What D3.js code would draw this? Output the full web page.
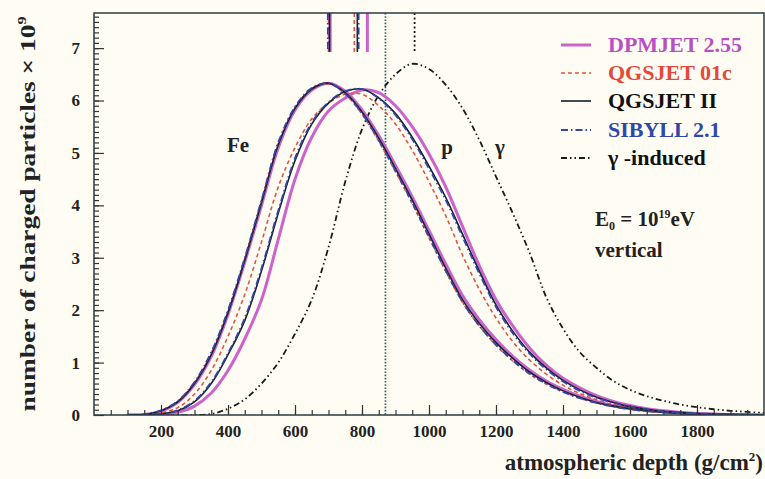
<!DOCTYPE html>
<html>
<head>
<meta charset="utf-8">
<script src="https://cdn.jsdelivr.net/npm/d3@7"></script>
<style>
  body { margin: 0; background: #fffdf3; }
  svg text { font-family: "Liberation Serif", "DejaVu Serif", serif; font-weight: bold; }
</style>
</head>
<body>
<div id="chart"></div>
<script>
// depth grid (g/cm2) shared by every profile
var depth = [100, 150, 200, 250, 300, 350, 400, 450, 500, 550,
             600, 650, 700, 750, 800, 850, 900, 950, 1000, 1050,
             1100, 1150, 1200, 1250, 1300, 1350, 1400, 1450, 1500, 1550,
             1600, 1650, 1700, 1750, 1800, 1850, 1900, 1950, 2000];

// iron showers (x 10^9 particles)
var feDpmjet   = [0, 0.01, 0.07, 0.24, 0.58, 1.12, 1.92, 2.92, 4.0, 5.1,
                  5.82, 6.2, 6.33, 6.18, 5.82, 5.33, 4.76, 4.16, 3.52, 2.88,
                  2.28, 1.82, 1.44, 1.12, 0.86, 0.65, 0.49, 0.36, 0.26, 0.18,
                  0.13, 0.09, 0.06, 0.04, 0.02, 0.01, 0.01, 0, 0];
var feQgsjet01 = [0, 0.01, 0.08, 0.26, 0.62, 1.18, 1.98, 2.98, 4.08, 5.18,
                  5.87, 6.23, 6.32, 6.12, 5.74, 5.22, 4.64, 4.03, 3.38, 2.74,
                  2.15, 1.7, 1.33, 1.03, 0.78, 0.59, 0.44, 0.32, 0.23, 0.16,
                  0.11, 0.07, 0.05, 0.03, 0.02, 0.01, 0, 0, 0];
var feQgsjet2  = [0, 0.01, 0.08, 0.25, 0.6, 1.15, 1.95, 2.95, 4.05, 5.15,
                  5.85, 6.22, 6.33, 6.15, 5.78, 5.28, 4.7, 4.1, 3.45, 2.8,
                  2.2, 1.75, 1.38, 1.08, 0.82, 0.62, 0.46, 0.34, 0.24, 0.17,
                  0.12, 0.08, 0.05, 0.03, 0.02, 0.01, 0.01, 0, 0];
var feSibyll   = [0, 0.01, 0.09, 0.27, 0.63, 1.2, 2.0, 3.0, 4.1, 5.2,
                  5.88, 6.24, 6.33, 6.13, 5.75, 5.24, 4.66, 4.05, 3.4, 2.75,
                  2.16, 1.7, 1.34, 1.04, 0.79, 0.6, 0.44, 0.32, 0.23, 0.16,
                  0.11, 0.07, 0.05, 0.03, 0.02, 0.01, 0, 0, 0];

// proton showers
var pDpmjet    = [0, 0, 0.01, 0.05, 0.17, 0.42, 0.85, 1.45, 2.2, 3.35,
                  4.5, 5.3, 5.8, 6.05, 6.2, 6.15, 5.9, 5.5, 4.98, 4.35,
                  3.6, 2.85, 2.2, 1.7, 1.28, 0.95, 0.7, 0.52, 0.37, 0.26,
                  0.18, 0.12, 0.08, 0.05, 0.03, 0.02, 0.01, 0.01, 0];
var pQgsjet01  = [0, 0.01, 0.04, 0.14, 0.4, 0.85, 1.5, 2.3, 3.3, 4.35,
                  5.1, 5.65, 5.95, 6.12, 6.12, 5.9, 5.55, 5.05, 4.45, 3.8,
                  3.05, 2.4, 1.85, 1.4, 1.05, 0.78, 0.57, 0.41, 0.29, 0.2,
                  0.14, 0.09, 0.06, 0.04, 0.02, 0.01, 0.01, 0, 0];
var pQgsjet2   = [0, 0, 0.02, 0.08, 0.25, 0.6, 1.15, 1.8, 2.75, 3.85,
                  4.85, 5.55, 5.95, 6.17, 6.22, 6.05, 5.75, 5.3, 4.75, 4.15,
                  3.45, 2.75, 2.1, 1.6, 1.2, 0.9, 0.66, 0.48, 0.34, 0.24,
                  0.16, 0.11, 0.07, 0.05, 0.03, 0.02, 0.01, 0.01, 0];
var pSibyll    = [0, 0, 0.02, 0.09, 0.27, 0.63, 1.18, 1.85, 2.8, 3.9,
                  4.9, 5.58, 5.97, 6.18, 6.22, 6.04, 5.72, 5.26, 4.7, 4.1,
                  3.4, 2.7, 2.06, 1.56, 1.17, 0.87, 0.64, 0.46, 0.33, 0.23,
                  0.16, 0.11, 0.07, 0.04, 0.03, 0.02, 0.01, 0, 0];

// photon shower
var gammaInd   = [0, 0, 0, 0, 0, 0.02, 0.12, 0.3, 0.6, 1.0,
                  1.55, 2.2, 3.2, 4.45, 5.45, 6.1, 6.5, 6.7, 6.6, 6.3,
                  5.85, 5.25, 4.55, 3.85, 3.1, 2.25, 1.65, 1.2, 0.9, 0.65,
                  0.48, 0.36, 0.27, 0.2, 0.15, 0.11, 0.08, 0.06, 0.04];

// shower maxima shown as markers on the top axis (DPMJET, QGSJET01, QGSJETII, SIBYLL)
var xmaxFe = [705, 700, 703, 698];
var xmaxP  = [816, 777, 786, 790];
var xmaxGamma = 957;
var groundDepth = 870;

var xTicks = [200, 400, 600, 800, 1000, 1200, 1400, 1600, 1800];
var yTicks = [0, 1, 2, 3, 4, 5, 6, 7];
var modelNames = ["DPMJET 2.55", "QGSJET 01c", "QGSJET II", "SIBYLL 2.1", "-induced"];

// ---------------------------//
//       SVG AND SCALES       //
// ---------------------------//
var W = 765, H = 479;
var margin = { top: 13, right: 1, bottom: 64, left: 94 },
    width = W - margin.left - margin.right,
    height = H - margin.top - margin.bottom;

var svg = d3.select("#chart").append("svg")
    .attr("width", W).attr("height", H)
    .style("background", "#fffdf3");

var g = svg.append("g")
    .attr("transform", "translate(" + margin.left + "," + margin.top + ")");

var x = d3.scaleLinear().domain([0, 2000]).range([0, width]);
var y = d3.scaleLinear().domain([0, 7.67]).range([height, 0]);

g.append("clipPath").attr("id", "clip")
  .append("rect").attr("width", width).attr("height", height);

// styles per model
var models = [
    { name: "dpmjet",   color: "#cc62cc", width: 3, dash: null },
    { name: "qgsjet01", color: "#e5533f", width: 1.6, dash: "4,3" },
    { name: "qgsjet2",  color: "#15202a", width: 1.6, dash: null },
    { name: "sibyll",   color: "#3346a8", width: 1.8, dash: "7,3,1.5,3" }
];
var feSeries = [feDpmjet, feQgsjet01, feQgsjet2, feSibyll];
var pSeries  = [pDpmjet, pQgsjet01, pQgsjet2, pSibyll];

var line = d3.line()
    .x(function(d) { return x(d[0]); })
    .y(function(d) { return y(d[1]); })
    .curve(d3.curveCatmullRom.alpha(0.5));

function pairs(vals) { return depth.map(function(d, i) { return [d, vals[i]]; }); }

var curves = g.append("g").attr("clip-path", "url(#clip)");

// ground level line
curves.append("line")
    .attr("x1", x(groundDepth)).attr("x2", x(groundDepth))
    .attr("y1", 0).attr("y2", height)
    .attr("stroke", "#2a6475").attr("stroke-width", 1.7)
    .attr("stroke-dasharray", "1.6,1.6");

// gamma profile
curves.append("path")
    .attr("d", line(pairs(gammaInd)))
    .attr("fill", "none").attr("stroke", "#1a1a1a").attr("stroke-width", 1.8)
    .attr("stroke-dasharray", "6,3,1.5,3,1.5,3");

models.forEach(function(m, i) {
    [feSeries[i], pSeries[i]].forEach(function(s) {
        curves.append("path")
            .attr("d", line(pairs(s)))
            .attr("fill", "none")
            .attr("stroke", m.color)
            .attr("stroke-width", m.width)
            .attr("stroke-dasharray", m.dash);
    });
});

// Xmax markers hanging from the top
var markerLen = 39;
models.forEach(function(m, i) {
    [xmaxFe[i], xmaxP[i]].forEach(function(v) {
        g.append("line")
            .attr("x1", x(v)).attr("x2", x(v))
            .attr("y1", 0).attr("y2", markerLen)
            .attr("stroke", m.color)
            .attr("stroke-width", m.width)
            .attr("stroke-dasharray", m.dash);
    });
});
g.append("line")
    .attr("x1", x(xmaxGamma)).attr("x2", x(xmaxGamma))
    .attr("y1", 0).attr("y2", markerLen)
    .attr("stroke", "#1a1a1a").attr("stroke-width", 1.8)
    .attr("stroke-dasharray", "2,2.5");

// ---------------------------//
//       AXES                 //
// ---------------------------//
var minorX = d3.range(50, 2000, 50);
var minorY = d3.range(0.1, 7.65, 0.1);
var serif = "'Liberation Serif', 'DejaVu Serif', serif";

g.append("g").attr("transform", "translate(0," + height + ")")
    .call(d3.axisBottom(x).tickValues(minorX).tickSizeInner(-5).tickSizeOuter(0).tickFormat(""))
    .call(function(a) { a.select(".domain").remove(); });
g.append("g").attr("transform", "translate(0," + height + ")")
    .call(d3.axisBottom(x).tickValues(xTicks).tickSizeInner(-10).tickSizeOuter(0).tickPadding(10).tickFormat(d3.format("d")))
    .call(function(a) {
        a.select(".domain").remove();
        a.attr("font-family", serif);
        a.selectAll("text").style("font-size", "17px").attr("fill", "#222");
    });

g.append("g")
    .call(d3.axisLeft(y).tickValues(minorY).tickSizeInner(-5).tickSizeOuter(0).tickFormat(""))
    .call(function(a) { a.select(".domain").remove(); });
g.append("g")
    .call(d3.axisLeft(y).tickValues(yTicks).tickSizeInner(-10).tickSizeOuter(0).tickPadding(14))
    .call(function(a) {
        a.select(".domain").remove();
        a.attr("font-family", serif);
        a.selectAll("text").style("font-size", "17px").attr("fill", "#222");
    });

g.selectAll(".tick line").attr("stroke", "#333").attr("stroke-width", 1.2);

// frame
g.append("rect")
    .attr("width", width).attr("height", height)
    .attr("fill", "none").attr("stroke", "#2a3a40").attr("stroke-width", 1.5);

// axis titles
svg.append("text")
    .attr("x", W - 2).attr("y", 470)
    .attr("text-anchor", "end")
    .style("font-size", "23px").attr("fill", "#222")
    .html("atmospheric depth (g/cm<tspan dy='-9' font-size='13px'>2</tspan><tspan dy='9'>)</tspan>");

svg.append("text")
    .attr("transform", "translate(35," + (margin.top + height / 2) + ") rotate(-90)")
    .attr("text-anchor", "middle")
    .attr("textLength", 395).attr("lengthAdjust", "spacingAndGlyphs")
    .style("font-size", "22px").attr("fill", "#222")
    .html("number of charged particles \u00d7 10<tspan dy='-9' font-size='13px'>9</tspan>");

// ---------------------------//
//       LEGEND               //
// ---------------------------//
var legendColors = ["#b94fc4", "#e5483a", "#111", "#2f47a8", "#111"];
var legendY = [45, 73, 101, 130, 158];
var legendStyles = models.concat([{ color: "#1a1a1a", width: 1.8, dash: "6,3,1.5,3,1.5,3" }]);
legendStyles.forEach(function(m, i) {
    svg.append("line")
        .attr("x1", 561).attr("x2", 591)
        .attr("y1", legendY[i]).attr("y2", legendY[i])
        .attr("stroke", m.color)
        .attr("stroke-width", m.width)
        .attr("stroke-dasharray", m.dash);
});
modelNames.forEach(function(n, i) {
    var t = svg.append("text")
        .attr("x", 608).attr("y", legendY[i] + 7)
        .style("font-size", "22px")
        .attr("fill", legendColors[i]);
    if (i === 4) {
        t.append("tspan").text("\u03b3 ");
        t.append("tspan").text(n);
    } else {
        t.text(n);
    }
});

svg.append("text")
    .attr("x", 595).attr("y", 226)
    .style("font-size", "21px").attr("fill", "#222")
    .html("E<tspan dy='4' font-size='12px'>0</tspan><tspan dy='-4'> = 10</tspan><tspan dy='-8' font-size='12px'>19</tspan><tspan dy='8'>eV</tspan>");
svg.append("text")
    .attr("x", 595).attr("y", 257)
    .style("font-size", "21px").attr("fill", "#222")
    .text("vertical");

// primary labels
svg.append("text").attr("x", 238).attr("y", 152).attr("text-anchor", "middle")
    .style("font-size", "21px").attr("fill", "#222").text("Fe");
svg.append("text").attr("x", 447).attr("y", 154).attr("text-anchor", "middle")
    .style("font-size", "21px").attr("fill", "#222").text("p");
svg.append("text").attr("x", 500).attr("y", 154).attr("text-anchor", "middle")
    .style("font-size", "21px").attr("fill", "#222").text("\u03b3");
</script>
</body>
</html>
